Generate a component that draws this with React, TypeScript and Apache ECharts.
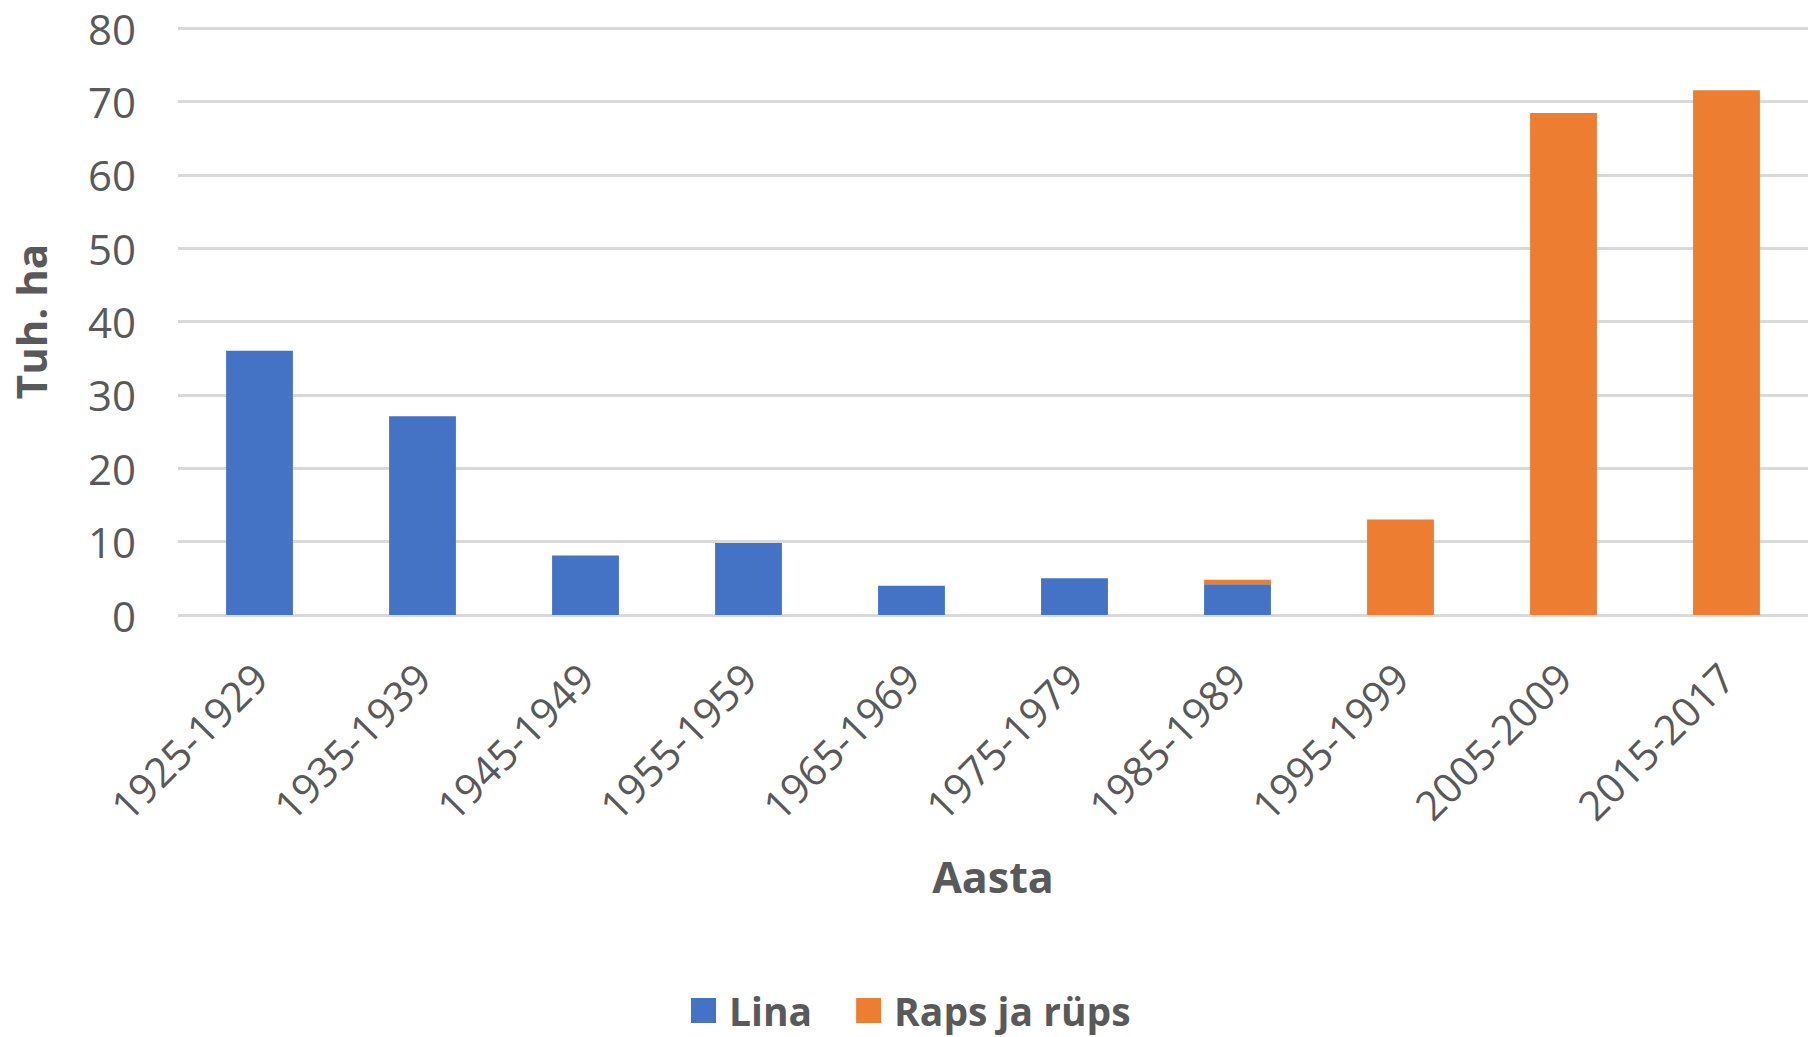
import React, { useEffect, useRef } from "react";
import * as echarts from "echarts";

const categories = ["1925-1929", "1935-1939", "1945-1949", "1955-1959", "1965-1969", "1975-1979", "1985-1989", "1995-1999", "2005-2009", "2015-2017"];
const linaValues = [36.0, 27.1, 8.1, 9.8, 4.0, 5.0, 4.2, null, null, null];
const rapsValues = [null, null, null, null, null, null, 0.6, 13.0, 68.4, 71.5];
const yTicks = { min: 0, max: 80, interval: 10 };

const FONT = "'Open Sans', 'Noto Sans', sans-serif";
const GREY = "#595959";

export default function App() {
  const ref = useRef<HTMLDivElement>(null);
  useEffect(() => {
    if (!ref.current) return;
    const chart = echarts.init(ref.current, undefined, { renderer: "svg" });
    chart.setOption({
      animation: false,
      backgroundColor: "#ffffff",
      textStyle: { fontFamily: FONT },
      grid: { left: 178, right: -7, top: 28, bottom: 422, containLabel: false },
      legend: {
        left: 686,
        top: 986,
        itemWidth: 25,
        itemHeight: 25,
        itemGap: 44,
        icon: "rect",
        textStyle: { fontFamily: FONT, fontSize: 39, lineHeight: 39, fontWeight: "bold", color: GREY, padding: [0, 0, 0, 8] },
        data: ["Lina", "Raps ja rüps"],
      },
      xAxis: {
        type: "category",
        data: categories,
        name: "Aasta",
        nameLocation: "middle",
        nameGap: 240,
        nameTextStyle: { fontFamily: FONT, fontSize: 43, fontWeight: "bold", color: GREY },
        axisLine: { show: false },
        axisTick: { show: false },
        axisLabel: { rotate: 45, margin: 55, fontSize: 41, color: GREY, fontFamily: FONT, interval: 0 },
      },
      yAxis: {
        type: "value",
        min: yTicks.min,
        max: yTicks.max,
        interval: yTicks.interval,
        name: "Tuh. ha",
        nameLocation: "middle",
        nameGap: 127,
        nameTextStyle: { fontFamily: FONT, fontSize: 42, fontWeight: "bold", color: GREY },
        axisLabel: { margin: 42, fontSize: 42, color: GREY, fontFamily: FONT },
        splitLine: { lineStyle: { color: "#d9d9d9", width: 3 } },
        axisLine: { show: false },
        axisTick: { show: false },
      },
      series: [
        {
          name: "Lina",
          type: "bar",
          stack: "total",
          data: linaValues,
          barWidth: "41%",
          itemStyle: { color: "#4472C4" },
        },
        {
          name: "Raps ja rüps",
          type: "bar",
          stack: "total",
          data: rapsValues,
          barWidth: "41%",
          itemStyle: { color: "#ED7D31" },
        },
      ],
    });
    return () => chart.dispose();
  }, []);
  return <div ref={ref} style={{ position: "fixed", left: 0, top: 0, width: 1808, height: 1037 }} />;
}
